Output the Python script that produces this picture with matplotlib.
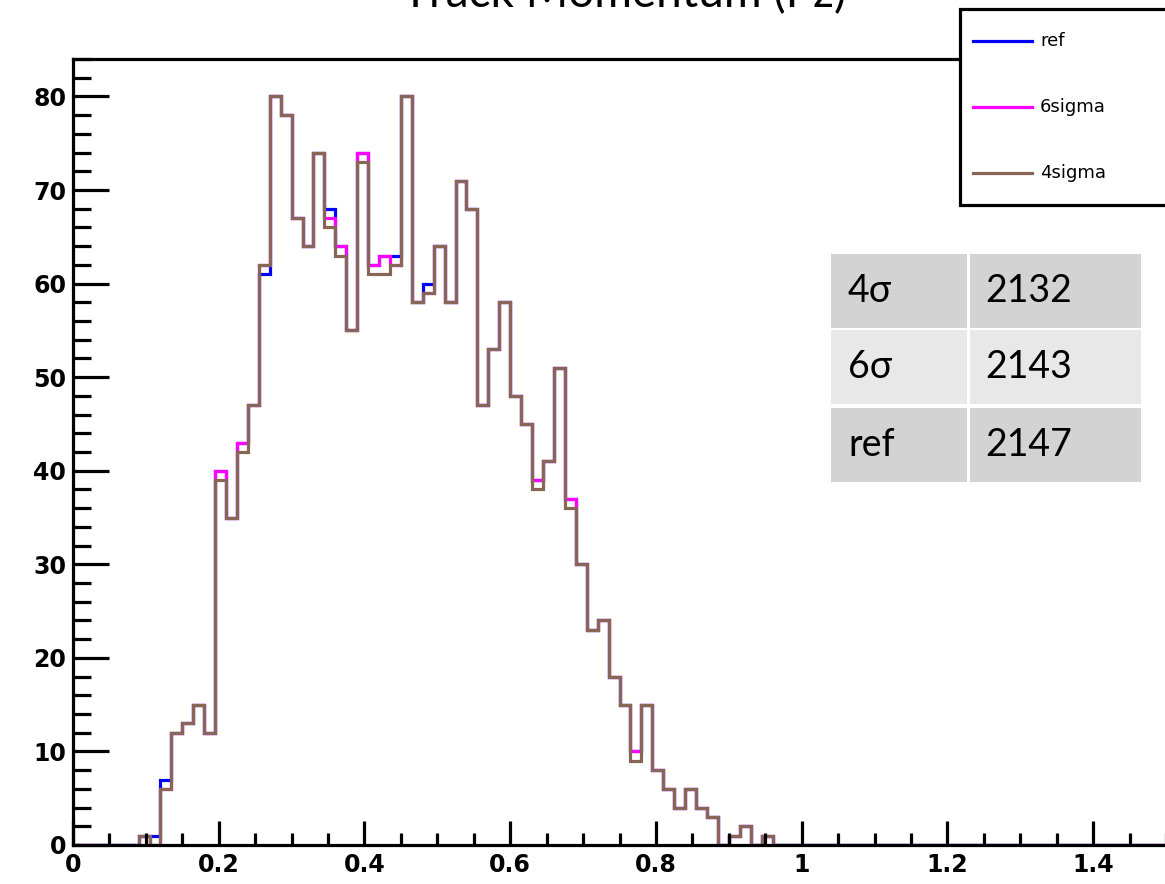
import numpy as np
import matplotlib
matplotlib.use("Agg")
import matplotlib.pyplot as plt
from matplotlib.patches import Rectangle
from matplotlib.lines import Line2D
from matplotlib.ticker import MultipleLocator

###donnees###
# 100 bins entre 0 et 1.5, seuls les 64 premiers sont non nuls
x_min, x_max, n_bins = 0.0, 1.5, 100

h_ref = [0, 0, 0, 0, 0, 0, 1, 1, 7, 12,
         13, 15, 12, 40, 35, 43, 47, 61, 80, 78,
         67, 64, 74, 68, 64, 55, 74, 62, 63, 63,
         80, 58, 60, 64, 58, 71, 68, 47, 53, 58,
         48, 45, 39, 41, 51, 37, 30, 23, 24, 18,
         15, 10, 15, 8, 6, 4, 6, 4, 3, 0,
         1, 2, 0, 1] + [0] * 36

h_6sigma = [0, 0, 0, 0, 0, 0, 1, 0, 6, 12,
            13, 15, 12, 40, 35, 43, 47, 62, 80, 78,
            67, 64, 74, 67, 64, 55, 74, 62, 63, 62,
            80, 58, 59, 64, 58, 71, 68, 47, 53, 58,
            48, 45, 39, 41, 51, 37, 30, 23, 24, 18,
            15, 10, 15, 8, 6, 4, 6, 4, 3, 0,
            1, 2, 0, 1] + [0] * 36

h_4sigma = [0, 0, 0, 0, 0, 0, 1, 0, 6, 12,
            13, 15, 12, 39, 35, 42, 47, 62, 80, 78,
            67, 64, 74, 66, 63, 55, 73, 61, 61, 62,
            80, 58, 59, 64, 58, 71, 68, 47, 53, 58,
            48, 45, 38, 41, 51, 36, 30, 23, 24, 18,
            15, 9, 15, 8, 6, 4, 6, 4, 3, 0,
            1, 2, 0, 1] + [0] * 36

noms = ["ref", "6sigma", "4sigma"]
couleurs = ["#0000ff", "#ff00ff", "#876656"]

tab_labels = ["4\u03c3", "6\u03c3", "ref"]
tab_valeurs = [2132, 2143, 2147]

W, H = 1165, 884

def fx(px):
    return px / W

def fy(py):
    return 1 - py / H

fig = plt.figure(figsize=(W / 100, H / 100), dpi=100)
ax = fig.add_axes([fx(73), fy(845), fx(1166 - 73), (845 - 59) / H])

edges = np.linspace(x_min, x_max, n_bins + 1)
for h, c in zip([h_ref, h_6sigma, h_4sigma], couleurs):
    ax.stairs(h, edges, color=c, linewidth=2.3)

ax.set_xlim(x_min, x_max)
ax.set_ylim(0, 84)

###axes style ROOT###
ax.xaxis.set_major_locator(MultipleLocator(0.2))
ax.xaxis.set_minor_locator(MultipleLocator(0.05))
ax.yaxis.set_major_locator(MultipleLocator(10))
ax.yaxis.set_minor_locator(MultipleLocator(2))
ax.xaxis.set_major_formatter(plt.FuncFormatter(lambda v, p: "%g" % round(v, 2)))
ax.tick_params(axis="x", which="major", direction="in", length=17, width=2.3, pad=6)
ax.tick_params(axis="x", which="minor", direction="in", length=9, width=2.3)
ax.tick_params(axis="y", which="major", direction="in", length=26, width=2.3, pad=5)
ax.tick_params(axis="y", which="minor", direction="in", length=13, width=2.3)
ax.tick_params(top=False, right=False)
for lab in ax.get_xticklabels() + ax.get_yticklabels():
    lab.set_fontfamily("DejaVu Sans")
    lab.set_fontweight("bold")
    lab.set_fontsize(17)
for s in ["left", "bottom", "top"]:
    ax.spines[s].set_linewidth(2.3)
ax.spines["right"].set_visible(False)

###titre (coupe en haut comme l'original)###
fig.text(fx(624), fy(7), "Track Momentum (Pz)", ha="center", va="baseline",
         fontsize=33, family=["Lato", "DejaVu Sans"])

###legende###
fig.add_artist(Rectangle((fx(960), fy(205)), fx(300), (205 - 9) / H, transform=fig.transFigure,
                         facecolor="white", edgecolor="black", linewidth=2.3, zorder=5))
for i, (n, c) in enumerate(zip(noms, couleurs)):
    yy = fy(41 + 66 * i)
    fig.add_artist(Line2D([fx(973), fx(1032)], [yy, yy], transform=fig.transFigure,
                          color=c, linewidth=2.3, zorder=6))
    fig.text(fx(1040), yy, n, va="center", ha="left", fontsize=13,
             family=["DejaVu Sans"], zorder=7)

###tableau###
col_x = [831, 970]
col_w = [136, 171]
row_y = [254, 330, 408]
row_h = 74
fonds = ["#d3d3d3", "#e8e8e8", "#d3d3d3"]
for i in range(3):
    for j in range(2):
        fig.add_artist(Rectangle((fx(col_x[j]), fy(row_y[i] + row_h)), col_w[j] / W, row_h / H,
                                 transform=fig.transFigure, facecolor=fonds[i],
                                 edgecolor="none", zorder=5))
    yc = fy(row_y[i] + row_h / 2)
    fig.text(fx(848), yc, tab_labels[i], va="center", ha="left", fontsize=27,
             family=["Lato", "DejaVu Sans"], zorder=6)
    fig.text(fx(985), yc, str(tab_valeurs[i]), va="center", ha="left", fontsize=27,
             family=["Lato", "DejaVu Sans"], zorder=6)

fig.savefig("out.png", dpi=100)
